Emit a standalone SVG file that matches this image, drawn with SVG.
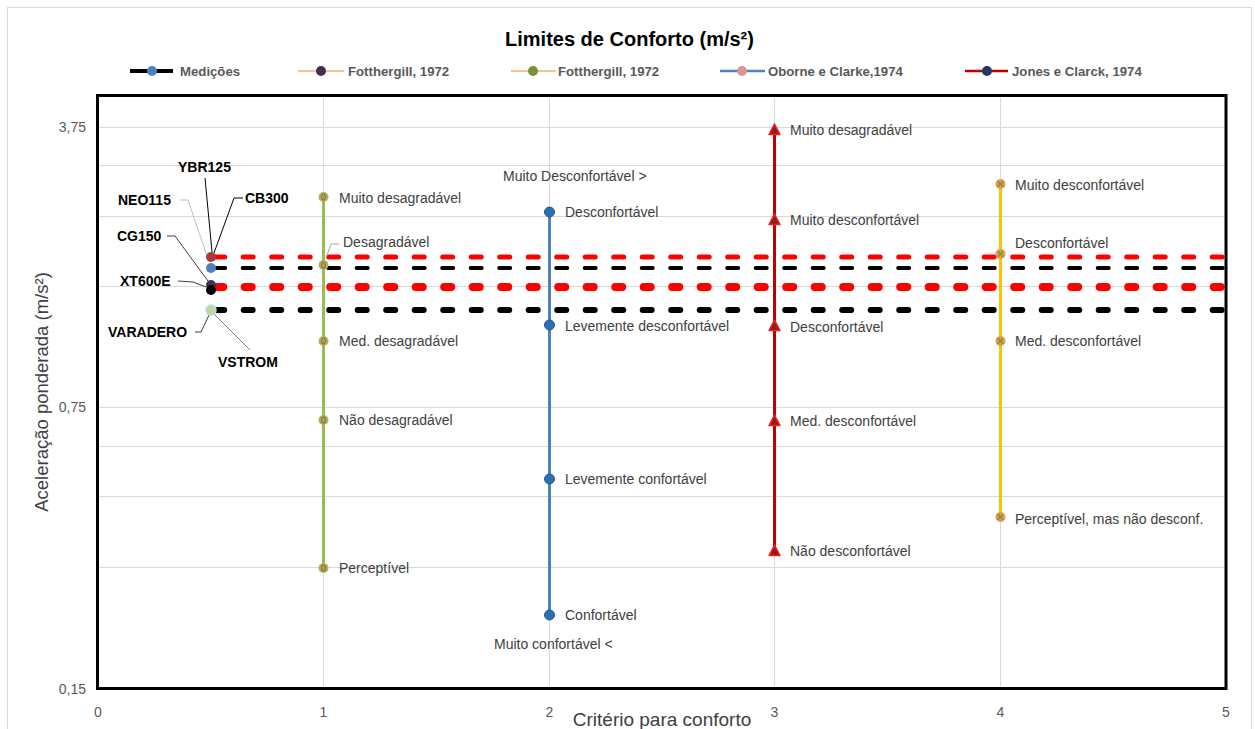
<svg xmlns="http://www.w3.org/2000/svg" width="1255" height="729" viewBox="0 0 1255 729">
<style>
text{font-family:"Liberation Sans",Arial,sans-serif}
.grid{stroke:#D9D9D9;stroke-width:1;fill:none}
.tick{font-size:14px;fill:#595959}
.lbl{font-size:14px;fill:#404040}
.leg{font-size:13.2px;font-weight:bold;fill:#595959}
.moto{font-size:14px;font-weight:bold;fill:#000}
.dash{fill:none;stroke-linecap:round}
.ld{fill:none;stroke-width:1}
</style>
<defs>
<clipPath id="plot"><rect x="97" y="95" width="1129" height="594"/></clipPath>
<g id="mGreen"><circle r="5" fill="#9BBB59"/><ellipse rx="1.8" ry="3" fill="none" stroke="#C0504D" stroke-width="1.2"/></g>
<g id="mBlue"><circle r="5" fill="#2E6FB0" stroke="#1F5A96" stroke-width="1"/></g>
<g id="mRed"><path d="M0,-6 L5.5,4.5 L-5.5,4.5 Z" fill="#8B1E1E" stroke="#FF1A1A" stroke-width="1.5" stroke-linejoin="round"/></g>
<g id="mYel"><circle r="5" fill="#E59A4B"/><path d="M-2.8,-2.8 L2.8,2.8 M-2.8,2.8 L2.8,-2.8" stroke="#77933C" stroke-width="1.3"/></g>
</defs>
<rect x="0" y="0" width="1255" height="729" fill="#fff"/>
<rect x="7.5" y="7.5" width="1244" height="740" fill="none" stroke="#D9D9D9" stroke-width="1"/>

<text x="629.5" y="46" text-anchor="middle" style="font-size:20px;font-weight:bold;fill:#000">Limites de Conforto (m/s²)</text>

<g id="legend">
<line x1="130" y1="71" x2="173" y2="71" stroke="#000" stroke-width="4"/>
<circle cx="152" cy="71" r="5" fill="#4F81BD"/>
<text class="leg" x="180" y="76">Medições</text>
<line x1="298" y1="71" x2="344" y2="71" stroke="#FAC090" stroke-width="2"/>
<circle cx="321" cy="71" r="5" fill="#403152"/>
<text class="leg" x="348" y="76">Fotthergill, 1972</text>
<line x1="511" y1="71" x2="556" y2="71" stroke="#FAC090" stroke-width="2"/>
<circle cx="533" cy="71" r="5" fill="#77933C"/>
<text class="leg" x="558" y="76">Fotthergill, 1972</text>
<line x1="720" y1="71" x2="765" y2="71" stroke="#4F81BD" stroke-width="2.5"/>
<circle cx="742" cy="71" r="5" fill="#D99694"/>
<text class="leg" x="768" y="76">Oborne e Clarke,1974</text>
<line x1="965" y1="71" x2="1008" y2="71" stroke="#C00000" stroke-width="2.5"/>
<circle cx="987" cy="71" r="5" fill="#1F3864"/>
<text class="leg" x="1012" y="76">Jones e Clarck, 1974</text>
</g>

<g id="gridlines">
<path class="grid" d="M97,127.5H1226M97,165.5H1226M97,216.5H1226M97,286.5H1226M97,407.5H1226M97,446.5H1226M97,496.5H1226M97,567.5H1226"/>
<path class="grid" d="M323.5,95V689M549.5,95V689M774.5,95V689M1000.5,95V689"/>
</g>

<g id="axes">
<text class="tick" x="86" y="132" text-anchor="end">3,75</text>
<text class="tick" x="86" y="412" text-anchor="end">0,75</text>
<text class="tick" x="86" y="694" text-anchor="end">0,15</text>
<text class="tick" x="98" y="717" text-anchor="middle">0</text>
<text class="tick" x="323.5" y="717" text-anchor="middle">1</text>
<text class="tick" x="549.5" y="717" text-anchor="middle">2</text>
<text class="tick" x="774.5" y="717" text-anchor="middle">3</text>
<text class="tick" x="1000.5" y="717" text-anchor="middle">4</text>
<text class="tick" x="1226" y="717" text-anchor="middle">5</text>
<text x="662" y="726" text-anchor="middle" style="font-size:19px;fill:#404040">Critério para conforto</text>
<text transform="translate(48,392) rotate(-90)" text-anchor="middle" style="font-size:18.5px;fill:#404040">Aceleração ponderada (m/s²)</text>
</g>

<g id="connectors" clip-path="url(#plot)">
<line x1="323.5" y1="197" x2="323.5" y2="568" stroke="#9BBB59" stroke-width="3"/>
<line x1="549.5" y1="212" x2="549.5" y2="615" stroke="#4F81BD" stroke-width="3"/>
<line x1="774.5" y1="129" x2="774.5" y2="551" stroke="#C00000" stroke-width="3"/>
<line x1="1000.5" y1="183" x2="1000.5" y2="517" stroke="#FFC000" stroke-width="3"/>
<line class="dash" x1="214.7" y1="257" x2="1240" y2="257" stroke="#FF0000" stroke-width="5" stroke-dasharray="10 18.5"/>
<line class="dash" x1="214.2" y1="268" x2="1240" y2="268" stroke="#000" stroke-width="4" stroke-dasharray="11 17.5"/>
<line class="dash" x1="216.2" y1="287" x2="1240" y2="287" stroke="#FF0000" stroke-width="8" stroke-dasharray="7 21.5"/>
<line class="dash" x1="215.2" y1="310" x2="1240" y2="310" stroke="#000" stroke-width="6" stroke-dasharray="9 19.5"/>
<polyline class="ld" points="326,258 331,244 339,244" stroke="#A6A6A6"/>
<line class="ld" x1="205" y1="178" x2="212" y2="252" stroke="#000"/>
<polyline class="ld" points="243,198 234,198 214,253" stroke="#000"/>
<polyline class="ld" points="180,200 188,200 209,262" stroke="#BFBFBF"/>
<polyline class="ld" points="167,236 175,236 208,281" stroke="#404040"/>
<polyline class="ld" points="178,281 193,282 206,287" stroke="#404040"/>
<polyline class="ld" points="195,332 201,332 209,315" stroke="#404040"/>
<line class="ld" x1="250" y1="350" x2="214" y2="314" stroke="#7F7F7F"/>
</g>

<g id="node-fotthergill-green">
<use href="#mGreen" x="323.5" y="197"/><use href="#mGreen" x="323.5" y="265"/><use href="#mGreen" x="323.5" y="341"/><use href="#mGreen" x="323.5" y="420"/><use href="#mGreen" x="323.5" y="568"/>
<text class="lbl" x="339" y="203">Muito desagradável</text>
<text class="lbl" x="343" y="247">Desagradável</text>
<text class="lbl" x="339" y="346">Med. desagradável</text>
<text class="lbl" x="339" y="425">Não desagradável</text>
<text class="lbl" x="339" y="573">Perceptível</text>
</g>

<g id="node-oborne">
<use href="#mBlue" x="549.5" y="212"/><use href="#mBlue" x="549.5" y="325"/><use href="#mBlue" x="549.5" y="479"/><use href="#mBlue" x="549.5" y="615"/>
<text class="lbl" x="503" y="181">Muito Desconfortável &gt;</text>
<text class="lbl" x="565" y="217">Desconfortável</text>
<text class="lbl" x="565" y="331">Levemente desconfortável</text>
<text class="lbl" x="565" y="484">Levemente confortável</text>
<text class="lbl" x="565" y="620">Confortável</text>
<text class="lbl" x="494" y="649">Muito confortável &lt;</text>
</g>

<g id="node-jones">
<use href="#mRed" x="774.5" y="130"/><use href="#mRed" x="774.5" y="220"/><use href="#mRed" x="774.5" y="326"/><use href="#mRed" x="774.5" y="421"/><use href="#mRed" x="774.5" y="551"/>
<text class="lbl" x="790" y="135">Muito desagradável</text>
<text class="lbl" x="790" y="225">Muito desconfortável</text>
<text class="lbl" x="790" y="332">Desconfortável</text>
<text class="lbl" x="790" y="426">Med. desconfortável</text>
<text class="lbl" x="790" y="556">Não desconfortável</text>
</g>

<g id="node-fotthergill-yellow">
<use href="#mYel" x="1000.5" y="184"/><use href="#mYel" x="1000.5" y="254"/><use href="#mYel" x="1000.5" y="341"/><use href="#mYel" x="1000.5" y="517"/>
<text class="lbl" x="1015" y="190">Muito desconfortável</text>
<text class="lbl" x="1015" y="248">Desconfortável</text>
<text class="lbl" x="1015" y="346">Med. desconfortável</text>
<text class="lbl" x="1015" y="524">Perceptível, mas não desconf.</text>
</g>

<g id="node-medicoes">
<circle cx="211" cy="257" r="5" fill="#A43D3B"/>
<circle cx="211" cy="268" r="5" fill="#4F81BD"/>
<circle cx="211" cy="285" r="5" fill="#3F3151"/>
<circle cx="211" cy="290" r="5" fill="#000"/>
<circle cx="211" cy="310" r="5" fill="#C3D69B" stroke="#B7DEE8" stroke-width="1.5"/>
<text class="moto" x="178" y="172">YBR125</text>
<text class="moto" x="245" y="203">CB300</text>
<text class="moto" x="118" y="205">NEO115</text>
<text class="moto" x="117" y="241">CG150</text>
<text class="moto" x="120" y="286">XT600E</text>
<text class="moto" x="108" y="337">VARADERO</text>
<text class="moto" x="218" y="367">VSTROM</text>
</g>

<rect id="plot-border" x="97.5" y="95.5" width="1128.5" height="593" fill="none" stroke="#000" stroke-width="3"/>
</svg>
